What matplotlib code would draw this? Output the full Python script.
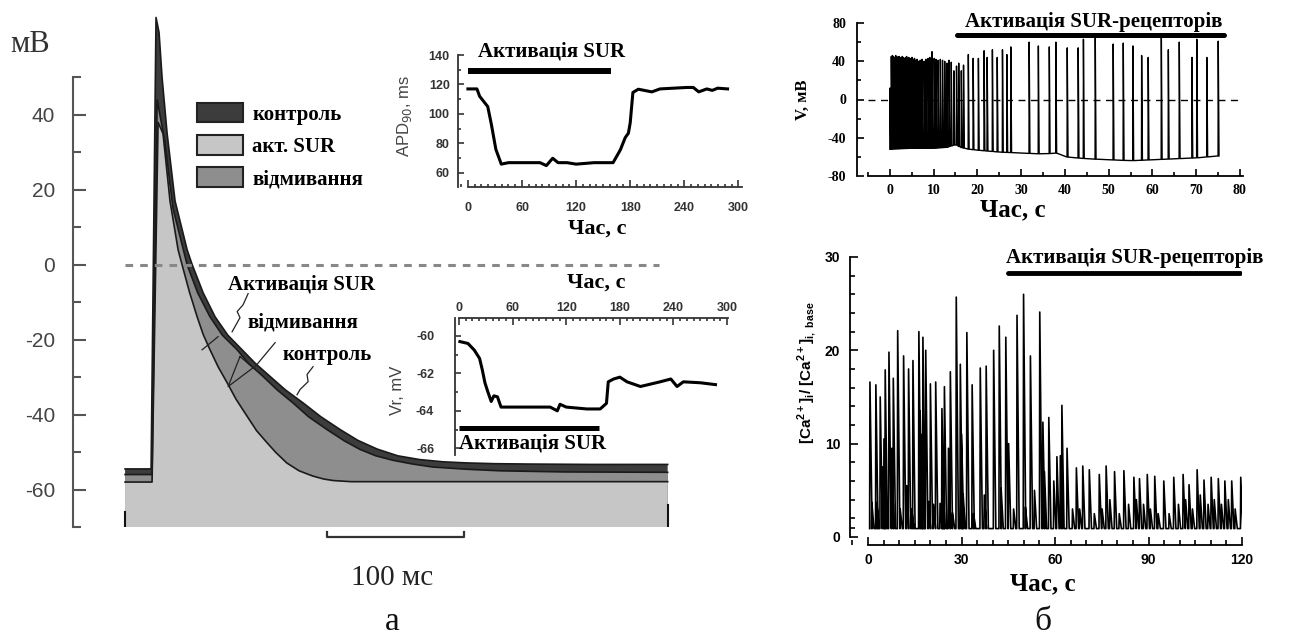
import numpy as np
import matplotlib
matplotlib.use("Agg")
import matplotlib.pyplot as plt
from matplotlib.patches import Patch
from matplotlib.ticker import MultipleLocator, FixedLocator

plt.rcParams["axes.unicode_minus"] = False
SERIF = "Liberation Serif"
SANS = "Liberation Sans"

W, H = 1293, 643

# ---------------- panel a: action potentials (ms, mV) ----------------
ap_ctrl_t = [0, 16.8, 19.0, 22.6, 24.8, 27.0, 30.7, 36.5, 45.3, 49.0, 57.0, 65.7, 75.0, 85.4,
             95.0, 105.8, 117.0, 130.0, 143.0, 157.0, 170.0, 184.0, 199.0, 215.0, 232.0,
             249.6, 270.0, 295.6, 340.0, 396.0]
ap_ctrl_v = [-54.5, -54.5, -54.5, 66, 62, 50, 35, 17, 4, 0, -7.5, -13.9, -18.8, -22.7,
             -26.3, -29.8, -33.4, -36.9, -40.6, -44, -46.9, -49.2, -51.0, -52.0, -52.6,
             -52.9, -53.1, -53.2, -53.3, -53.3]
ap_wash_t = [0, 16.8, 19.7, 23.4, 29.0, 35.0, 45.3, 53.0, 62.0, 71.0, 81.8, 90.0, 100.7, 111.0,
             122.6, 134.0, 147.4, 160.0, 171.5, 183.0, 195.6, 210.0, 224.8, 250.0, 273.7,
             320.0, 396.0]
ap_wash_v = [-56, -56, -56, 44, 33, 15, 0, -7.5, -13.9, -18.8, -22.7, -26.3, -29.8, -33.4,
             -36.9, -40.6, -44, -47.0, -49.3, -51.0, -52.2, -53.2, -54.0, -54.6, -55.0,
             -55.3, -55.4]
ap_sur_t = [0, 16.8, 19.7, 24.1, 27.7, 32.8, 38.7, 41.6, 47.0, 52.6, 57.0, 62.0, 68.0, 74.5,
            81.0, 89.0, 96.0, 103.6, 110.0, 118.0, 127.0, 137.0, 145.0, 152.0, 165.0, 396.0]
ap_sur_v = [-58, -58, -58, 38, 35, 17, 4, 0, -7.3, -13.9, -18.6, -22.7, -27.3, -31.5,
            -35.9, -40.4, -44.3, -47.5, -50.1, -52.9, -55.0, -56.4, -57.2, -57.6, -57.9, -57.9]
legend_labels = ["контроль", "акт. SUR", "відмивання"]
c_ctrl, c_sur, c_wash = "#3c3c3c", "#c6c6c6", "#8e8e8e"

# inset: APD90 vs time
apd_t = [0, 10, 13, 22, 26, 31, 37, 45, 60, 80, 87, 94, 100, 110, 120, 140, 157,
         161, 169, 174.5, 178, 180, 183, 189, 204, 213, 243, 250, 256, 265, 271, 277, 288]
apd_v = [117, 117, 112, 105, 93, 76, 66, 67, 67, 67, 65, 70, 67, 67, 66, 67, 67,
         67, 75.6, 84, 87, 94, 114.6, 116.8, 115, 117, 118, 118, 115, 117, 116, 117.5, 117]
apd_bar = (0, 159, 129)

# inset: resting potential vs time
vr_t = [1, 10, 17, 23, 26, 29, 32, 36, 39, 43, 47, 68, 102, 110, 113, 120, 143, 158,
        165, 167, 173, 180, 188, 203, 225, 237, 244, 251, 270, 287]
vr_v = [-60.3, -60.4, -60.75, -61.2, -61.8, -62.5, -62.95, -63.5, -63.2, -63.25, -63.8,
        -63.8, -63.8, -64.0, -63.65, -63.8, -63.9, -63.9, -63.6, -62.45, -62.3, -62.2,
        -62.45, -62.7, -62.45, -62.3, -62.7, -62.45, -62.5, -62.6]
vr_bar = (0, 157, -64.9)

# ---------------- panel b top: membrane potential (s, mV) ----------------
v_spk_t = [0.0, 0.3, 0.55, 0.8, 1.05, 1.3, 1.55, 1.8, 2.05, 2.3, 2.55, 2.8, 3.05, 3.3,
           3.55, 3.8, 4.05, 4.3, 4.55, 4.8, 5.05, 5.3, 5.6, 5.9, 6.2, 6.5, 6.9, 7.3,
           7.8, 8.2, 8.7, 9.1, 9.6, 10.1, 10.5, 11.0, 11.5, 12.0, 12.5, 13.0, 13.5,
           14.0, 14.6, 15.2, 15.7,
           16.3, 16.8, 17.9, 19.0, 20.2, 21.5, 22.2, 23.4, 24.5, 25.7, 26.7, 27.6,
           31.8, 33.9, 36.4, 37.9, 40.5, 43.0, 44.2, 46.9, 51.0, 53.3, 55.5, 57.5,
           59.0, 62.0, 63.6, 66.1, 69.0, 70.1, 72.4, 75.0]
v_spk_pk = [12, 45, 46, 45, 44, 46, 45, 44, 45, 44, 43, 45, 44, 43,
            44, 45, 43, 44, 42, 43, 44, 42, 43, 41, 42, 40, 41, 42,
            40, 42, 43, 44, 50, 43, 42, 41, 42, 41, 40, 38, 41,
            39, 30, 35, 38,
            30, 36, 47, 43, 43, 51, 44, 52, 44, 52, 47, 55,
            60, 56, 55, 60, 54, 54, 63, 67, 58, 59, 56, 46,
            44, 67, 52, 60, 44, 63, 44, 61]
v_base_t = [0, 5, 10, 13, 15, 16, 18, 20, 25, 30, 35, 38, 40, 45, 50, 55, 60, 65, 70, 75, 76]
v_base = [-52, -51, -51, -50, -47, -50, -52, -53, -55, -56, -57, -56, -60, -62, -63,
          -64, -63, -62, -61, -59, -60]
v_bar = (15.3, 76.3, 67)

# ---------------- panel b bottom: calcium (s, ratio) ----------------
ca_t = [0.5, 2.4, 3.8, 5.4, 6.6, 8.0, 9.4, 11.3, 12.9, 14.3, 16.2, 17.5, 18.4, 19.9,
        21.6, 23.6, 24.4, 26.3, 28.2, 29.5, 31.6, 33.3, 35.9, 37.8, 40.2, 42.0, 44.1,
        47.7, 49.8, 52.0, 55.0, 57.9, 60.5, 62.1, 63.75, 66.75, 68.8, 70.9, 74.1, 76.3,
        79.0, 82.0, 85.2, 87.0, 89.5, 91.9, 94.8, 98.0, 101.0, 102.9, 105.5, 107.7,
        110.0, 112.3, 114.4, 116.6, 119.5]
ca_pk = [16.6, 16.3, 15.0, 17.9, 19.8, 17.0, 22.1, 19.4, 18.0, 18.9, 22.0, 21.4, 20.0, 16.4,
         16.6, 13.75, 16.1, 17.7, 25.7, 18.5, 21.9, 16.3, 18.1, 18.3, 20.0, 22.6, 21.4,
         23.75, 26.0, 19.4, 24.1, 12.8, 8.6, 14.1, 9.5, 7.4, 7.6, 7.2, 6.7, 7.6,
         7.0, 7.1, 6.4, 6.25, 6.7, 6.5, 6.0, 6.4, 6.7, 5.6, 7.2, 6.1,
         6.4, 6.25, 6.0, 6.0, 6.4]
ca2_t = [1.1, 2.7, 4.5, 5.0, 7.5, 10.2, 12.3, 13.9, 16.6, 17.3, 19.3, 20.9, 23.0, 23.9,
         25.7, 27.0, 29.9, 30.4, 33.75, 37.2, 42.6, 45.0, 46.6, 50.4, 53.3, 56.0, 56.5,
         59.5, 61.6, 65.5, 67.8, 72.5, 75.0, 77.5, 80.5, 83.5, 86.0, 88.3, 90.5, 93.0,
         96.5, 99.5, 101.8, 104.0, 106.5, 109.0, 111.0, 113.3, 115.5, 117.7]
ca2_pk = [3.7, 3.7, 7.5, 10.5, 9.5, 3.0, 5.5, 3.0, 13.5, 11.0, 3.8, 3.5, 3.6, 6.0,
          9.5, 2.6, 11.0, 4.6, 2.5, 4.5, 5.2, 10.0, 3.0, 3.2, 5.0, 12.3, 7.0,
          6.0, 8.7, 3.0, 3.0, 2.5, 3.0, 4.0, 2.5, 3.5, 4.0, 3.5, 3.0, 2.5,
          2.5, 3.5, 4.0, 3.0, 4.5, 3.5, 4.0, 3.5, 4.0, 3.0]
ca_base = 0.9
ca_bar = (45, 119.5, 28.3)


def box(x0, y0, x1, y1):
    return fig.add_axes([x0 / W, 1 - y1 / H, (x1 - x0) / W, (y1 - y0) / H])


def ftext(x, y, s, **kw):
    fig.text(x / W, 1 - y / H, s, ha=kw.pop("ha", "center"), va=kw.pop("va", "center"), **kw)


def spike_trace(times, peaks, base_t, base_v, rise, fall):
    xs, ys = [], []
    for t, p in sorted(zip(times, peaks)):
        b = np.interp(t, base_t, base_v)
        xs += [t, t + rise, t + fall]
        ys += [b, p, b]
    return xs, ys


fig = plt.figure(figsize=(W / 100, H / 100), dpi=100)

# ---- main AP axes ----
ax = box(73, 10, 680, 527)
ax.set_xlim(-38, 405)
ax.set_ylim(-70, 68)
ax.patch.set_alpha(0)
for t, v, c in [(ap_ctrl_t, ap_ctrl_v, c_ctrl), (ap_wash_t, ap_wash_v, c_wash),
                (ap_sur_t, ap_sur_v, c_sur)]:
    ax.fill_between(t, v, -70, facecolor=c, edgecolor="none", zorder=2)
    ax.plot(t, v, color="#1a1a1a", lw=1.2, zorder=3)
ax.plot([0, 0], [-70, -66], color="#111", lw=1.5, zorder=3)
ax.plot([396, 396], [-70, -64], color="#111", lw=1.5, zorder=3)
ax.axhline(0, xmin=(0 + 38) / 443, xmax=(390 + 38) / 443, color="#888", lw=2.2,
           ls=(0, (2.5, 2.3)), zorder=4)
for sp in ["top", "right", "bottom"]:
    ax.spines[sp].set_visible(False)
ax.spines["left"].set_bounds(-70, 50)
ax.spines["left"].set_color("#555")
ax.spines["left"].set_linewidth(1.5)
ax.set_xticks([])
ax.yaxis.set_major_locator(FixedLocator([-60, -40, -20, 0, 20, 40]))
ax.yaxis.set_minor_locator(FixedLocator([-70, -50, -30, -10, 10, 30, 50]))
ax.tick_params(axis="y", which="both", direction="in", color="#555", width=1.5,
               labelsize=15, labelcolor="#444", pad=13)
ax.tick_params(axis="y", which="major", length=9)
ax.tick_params(axis="y", which="minor", length=6)
for lab in ax.get_yticklabels():
    lab.set_family(SANS)

# leader lines
leaders = [
    ([89.8, 86.1, 81.8, 83.9, 78.1], [-7.7, -10.7, -12.5, -14.1, -17.9]),
    ([56.2, 67.9], [-22.7, -19.2]),
    ([109.5, 94.9], [-20.8, -27.2]),
    ([83.9, 75.2, 93.4, 83.9], [-24.5, -32.5, -27.5, -24.5]),
    ([137.2, 132.8, 133.6, 127.7, 125.5], [-27.2, -29.3, -31.2, -33.3, -34.7]),
]
for lx, ly in leaders:
    ax.plot(lx, ly, color="#222", lw=0.9, zorder=5)
bold_serif = dict(family=SERIF, weight="bold", color="black")
ax.text(129, -5.3, "Активація SUR", ha="center", va="center", fontsize=15, **bold_serif)
ax.text(130, -15.5, "відмивання", ha="center", va="center", fontsize=15, **bold_serif)
ax.text(147.4, -24, "контроль", ha="center", va="center", fontsize=15, **bold_serif)

# scale bar
ax.plot([147.5, 147.5, 247.5, 247.5], [-71.3, -72.8, -72.8, -71.3], color="#333",
        lw=1.6, clip_on=False)

handles = [Patch(facecolor=c, edgecolor="#222", lw=1.5) for c in (c_ctrl, c_sur, c_wash)]
fig.legend(handles, legend_labels, loc="upper left", bbox_to_anchor=(197 / W, 1 - 103 / H),
           frameon=False, borderpad=0, borderaxespad=0, handlelength=2.2, handleheight=1.05,
           labelspacing=0.5, handletextpad=0.45,
           prop=dict(family=SERIF, weight="bold", size=15))

ftext(30, 45, "мВ", family=SERIF, fontsize=22, color="#333")
ftext(392, 578, "100 мс", family=SERIF, fontsize=21, color="#222")
ftext(392, 622, "а", family=SERIF, fontsize=24, color="#111")

inset_tick = dict(labelsize=9, labelcolor="#333", color="#333", width=1.2)

# ---- inset APD ----
a1 = box(458, 55, 742, 187)
a1.patch.set_alpha(0)
a1.set_xlim(-11, 304)
a1.set_ylim(50.5, 140)
a1.plot(apd_t, apd_v, color="black", lw=2.2)
a1.plot(apd_bar[:2], [apd_bar[2]] * 2, color="black", lw=4.3, solid_capstyle="butt")
for sp in ["top", "right"]:
    a1.spines[sp].set_visible(False)
a1.spines["bottom"].set_bounds(0, 304)
for sp in ["left", "bottom"]:
    a1.spines[sp].set_color("#333")
    a1.spines[sp].set_linewidth(1.3)
a1.xaxis.set_major_locator(FixedLocator([0, 60, 120, 180, 240, 300]))
a1.xaxis.set_minor_locator(MultipleLocator(7.5))
a1.yaxis.set_major_locator(FixedLocator([60, 80, 100, 120, 140]))
a1.yaxis.set_minor_locator(MultipleLocator(10))
a1.tick_params(which="both", direction="in", **inset_tick)
a1.tick_params(axis="x", which="major", length=5, pad=11)
a1.tick_params(axis="x", which="minor", length=2.5)
a1.tick_params(axis="y", which="major", length=4, pad=6)
a1.tick_params(axis="y", which="minor", length=2.5)
for lab in a1.get_xticklabels() + a1.get_yticklabels():
    lab.set_family(SANS)
    lab.set_weight("bold")
ftext(404, 116, "APD$_{90}$, ms", family=SANS, fontsize=12, color="#444", rotation=90)
ftext(597, 229, "Час, с", fontsize=16, **bold_serif)
ftext(552, 52, "Активація SUR", fontsize=15, **bold_serif)

# ---- inset Vr ----
a2 = box(455, 318, 728, 455)
a2.patch.set_alpha(0)
a2.set_xlim(-4.5, 301)
a2.set_ylim(-66.36, -59.04)
a2.plot(vr_t, vr_v, color="black", lw=2.2)
a2.plot(vr_bar[:2], [vr_bar[2]] * 2, color="black", lw=3.6, solid_capstyle="butt")
for sp in ["bottom", "right"]:
    a2.spines[sp].set_visible(False)
a2.spines["top"].set_bounds(0, 301)
for sp in ["left", "top"]:
    a2.spines[sp].set_color("#333")
    a2.spines[sp].set_linewidth(1.3)
a2.xaxis.tick_top()
a2.xaxis.set_major_locator(FixedLocator([0, 60, 120, 180, 240, 300]))
a2.xaxis.set_minor_locator(MultipleLocator(7.5))
a2.yaxis.set_major_locator(FixedLocator([-66, -64, -62, -60]))
a2.yaxis.set_minor_locator(MultipleLocator(1))
a2.tick_params(which="both", direction="in", **inset_tick)
a2.tick_params(axis="x", which="major", length=5, pad=3)
a2.tick_params(axis="x", which="minor", length=2.5)
a2.tick_params(axis="y", which="major", length=4, pad=15)
a2.tick_params(axis="y", which="minor", length=2.5)
for lab in a2.get_xticklabels() + a2.get_yticklabels():
    lab.set_family(SANS)
    lab.set_weight("bold")
ftext(397, 390, "Vr, mV", family=SANS, fontsize=12, color="#444", rotation=90)
ftext(596, 283, "Час, с", fontsize=16, **bold_serif)
ftext(459, 443, "Активація SUR", fontsize=15, ha="left", **bold_serif)

# ---- right top: V ----
b1 = box(857, 23, 1243, 176)
b1.patch.set_alpha(0)
b1.set_xlim(-7.5, 80.7)
b1.set_ylim(-80, 80)
vx, vy = spike_trace(v_spk_t, v_spk_pk, v_base_t, v_base, 0.04, 0.22)
b1.plot(vx, vy, color="black", lw=1.0)
b1.axhline(0, xmin=2.5 / 88.2, xmax=1, color="black", lw=1, ls=(0, (5, 4)))
b1.plot(v_bar[:2], [v_bar[2]] * 2, color="black", lw=3.6, solid_capstyle="round")
for sp in ["top", "right"]:
    b1.spines[sp].set_visible(False)
b1.spines["bottom"].set_bounds(-5, 80.7)
for sp in ["left", "bottom"]:
    b1.spines[sp].set_linewidth(1.3)
b1.xaxis.set_major_locator(MultipleLocator(10))
b1.xaxis.set_minor_locator(MultipleLocator(5))
b1.yaxis.set_major_locator(FixedLocator([-80, -40, 0, 40, 80]))
b1.yaxis.set_minor_locator(MultipleLocator(20))
b1.tick_params(which="both", direction="in", width=1.2, labelsize=10)
b1.tick_params(axis="x", which="major", length=5, pad=6)
b1.tick_params(axis="x", which="minor", length=3)
b1.tick_params(axis="y", which="major", length=5, pad=8)
b1.tick_params(axis="y", which="minor", length=3)
b1.set_xticks([0, 10, 20, 30, 40, 50, 60, 70, 80])
for lab in b1.get_xticklabels() + b1.get_yticklabels():
    lab.set_family(SERIF)
    lab.set_weight("bold")
ftext(803, 100, "V, мВ", fontsize=12, rotation=90, **bold_serif)
ftext(1013, 210, "Час, с", fontsize=18, **bold_serif)
ftext(1094, 22, "Активація SUR-рецепторів", fontsize=15, **bold_serif)

# ---- right bottom: Ca ----
b2 = box(850, 257, 1242, 545)
b2.patch.set_alpha(0)
b2.set_xlim(-5.8, 120)
b2.set_ylim(-0.86, 30)
cx, cy = spike_trace(ca_t + ca2_t, ca_pk + ca2_pk, [0, 120], [ca_base, ca_base], 0.1, 0.8)
b2.plot(cx, cy, color="black", lw=1.2)
b2.plot(ca_bar[:2], [ca_bar[2]] * 2, color="black", lw=3.5, solid_capstyle="round")
for sp in ["top", "right"]:
    b2.spines[sp].set_visible(False)
b2.spines["left"].set_bounds(0, 30)
b2.spines["bottom"].set_bounds(0, 120)
for sp in ["left", "bottom"]:
    b2.spines[sp].set_linewidth(1.3)
b2.xaxis.set_major_locator(FixedLocator([0, 30, 60, 90, 120]))
b2.xaxis.set_minor_locator(MultipleLocator(5))
b2.yaxis.set_major_locator(FixedLocator([0, 10, 20, 30]))
b2.yaxis.set_minor_locator(FixedLocator([1] + list(range(2, 30, 2))))
b2.tick_params(which="both", direction="in", width=1.2, labelsize=10)
b2.tick_params(axis="x", which="major", length=6, pad=6)
b2.tick_params(axis="x", which="minor", length=3.5)
b2.tick_params(axis="y", which="major", length=6, pad=7)
b2.tick_params(axis="y", which="minor", length=3.5)
for lab in b2.get_xticklabels() + b2.get_yticklabels():
    lab.set_family(SANS)
    lab.set_weight("bold")
ftext(807, 373,
      r"[Ca$^{\mathregular{2+}}$]$_{\mathregular{i}}$/ [Ca$^{\mathregular{2+}}$]$_{\mathregular{i,\ base}}$",
      family=SANS, weight="bold", fontsize=11, rotation=90)
ftext(1043, 584, "Час, с", fontsize=18, **bold_serif)
ftext(1135, 258, "Активація SUR-рецепторів", fontsize=15, **bold_serif)
ftext(1043, 622, "б", family=SERIF, fontsize=24, color="#111")

fig.savefig("out.png", dpi=100, facecolor="white")
